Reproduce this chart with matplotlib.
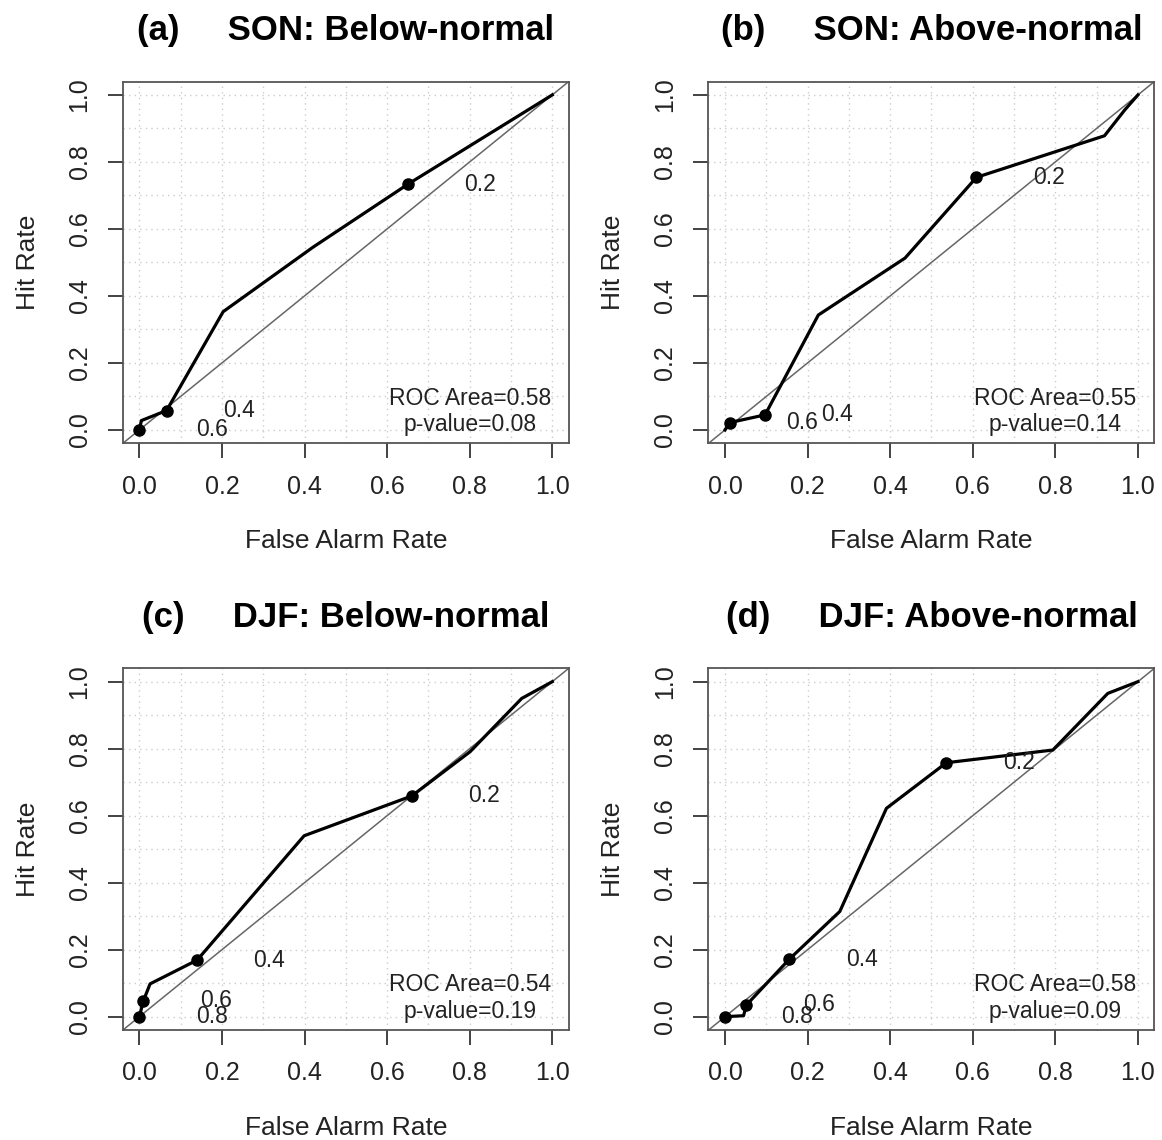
import matplotlib
matplotlib.use("Agg")
from matplotlib import pyplot as plt
import numpy as np

plt.rcParams['font.family'] = ['Liberation Sans', 'DejaVu Sans']

# ROC curves (false alarm rate, hit rate)
far_a = [0.0, 0.005, 0.066, 0.203, 0.42, 0.651, 1.0]
hr_a = [0.0, 0.028, 0.058, 0.353, 0.545, 0.734, 1.0]
far_b = [0.0, 0.012, 0.097, 0.226, 0.436, 0.609, 0.919, 0.968, 1.0]
hr_b = [0.0, 0.022, 0.045, 0.343, 0.513, 0.754, 0.878, 0.955, 1.0]
far_c = [0.0, 0.010, 0.026, 0.140, 0.399, 0.660, 0.801, 0.926, 1.0]
hr_c = [0.0, 0.048, 0.098, 0.169, 0.540, 0.659, 0.791, 0.950, 1.0]
far_d = [0.0, 0.045, 0.052, 0.156, 0.278, 0.391, 0.536, 0.794, 0.927, 1.0]
hr_d = [0.0, 0.003, 0.035, 0.172, 0.314, 0.622, 0.758, 0.796, 0.965, 1.0]

# probability thresholds marked on each curve
thr_far_a = [0.651, 0.066, 0.0]
thr_hr_a = [0.734, 0.058, 0.0]
thr_lab_a = ['0.2', '0.4', '0.6']
thr_far_b = [0.609, 0.097, 0.012]
thr_hr_b = [0.754, 0.045, 0.022]
thr_lab_b = ['0.2', '0.4', '0.6']
thr_far_c = [0.660, 0.140, 0.010, 0.0]
thr_hr_c = [0.659, 0.169, 0.048, 0.0]
thr_lab_c = ['0.2', '0.4', '0.6', '0.8']
thr_far_d = [0.536, 0.156, 0.052, 0.0]
thr_hr_d = [0.758, 0.172, 0.035, 0.0]
thr_lab_d = ['0.2', '0.4', '0.6', '0.8']

titles = ['(a)     SON: Below-normal', '(b)     SON: Above-normal',
          '(c)     DJF: Below-normal', '(d)     DJF: Above-normal']
roc_area = ['0.58', '0.55', '0.54', '0.58']
p_value = ['0.08', '0.14', '0.19', '0.09']

curves = [(far_a, hr_a), (far_b, hr_b), (far_c, hr_c), (far_d, hr_d)]
thresholds = [(thr_far_a, thr_hr_a, thr_lab_a), (thr_far_b, thr_hr_b, thr_lab_b),
              (thr_far_c, thr_hr_c, thr_lab_c), (thr_far_d, thr_hr_d, thr_lab_d)]

fig = plt.figure(figsize=(11.62, 11.40), dpi=100)
lefts = [0.1057, 0.6097, 0.1057, 0.6097]
bottoms = [0.6111, 0.6111, 0.0964, 0.0964]
ticks = np.arange(0, 1.01, 0.2)

for i in range(4):
    ax = fig.add_axes([lefts[i], bottoms[i], 0.3838, 0.3174])
    ax.set_xlim(-0.04, 1.04)
    ax.set_ylim(-0.04, 1.04)

    # dotted grid every 0.1
    for g in np.arange(0, 1.01, 0.1):
        ax.axvline(g, color='#cccccc', lw=1, ls=(0, (1, 3)), zorder=0)
        ax.axhline(g, color='#cccccc', lw=1, ls=(0, (1, 3)), zorder=0)

    ax.plot([-0.04, 1.04], [-0.04, 1.04], color='#666666', lw=1.1, zorder=1)
    far, hr = curves[i]
    ax.plot(far, hr, color='black', lw=2.3, zorder=2)
    tf, th, tl = thresholds[i]
    ax.plot(tf, th, 'o', color='black', ms=8, zorder=3)
    for x, y, s in zip(tf, th, tl):
        ax.text(x + 0.175, y, s, ha='center', va='center', fontsize=16.5, color='#222222')

    ax.text(0.8, 0.095, 'ROC Area=' + roc_area[i], ha='center', va='center',
            fontsize=16.5, color='#222222')
    ax.text(0.8, 0.017, 'p-value=' + p_value[i], ha='center', va='center',
            fontsize=16.5, color='#222222')

    ax.set_xticks(ticks)
    ax.set_yticks(ticks)
    ax.set_xticklabels(['%.1f' % t for t in ticks])
    ax.set_yticklabels(['%.1f' % t for t in ticks], rotation=90, va='center')
    ax.tick_params(axis='both', length=10.5, width=1.2, pad=12, labelsize=18,
                   colors='#222222')
    for sp in ax.spines.values():
        sp.set_color('#555555')
        sp.set_linewidth(1.3)

    ax.set_xlabel('False Alarm Rate', fontsize=19, labelpad=22, color='#222222')
    ax.set_ylabel('Hit Rate', fontsize=19, labelpad=20, color='#222222')
    ax.set_title(titles[i], fontsize=25, fontweight='bold', pad=30)

plt.savefig('out.png', dpi=100)
